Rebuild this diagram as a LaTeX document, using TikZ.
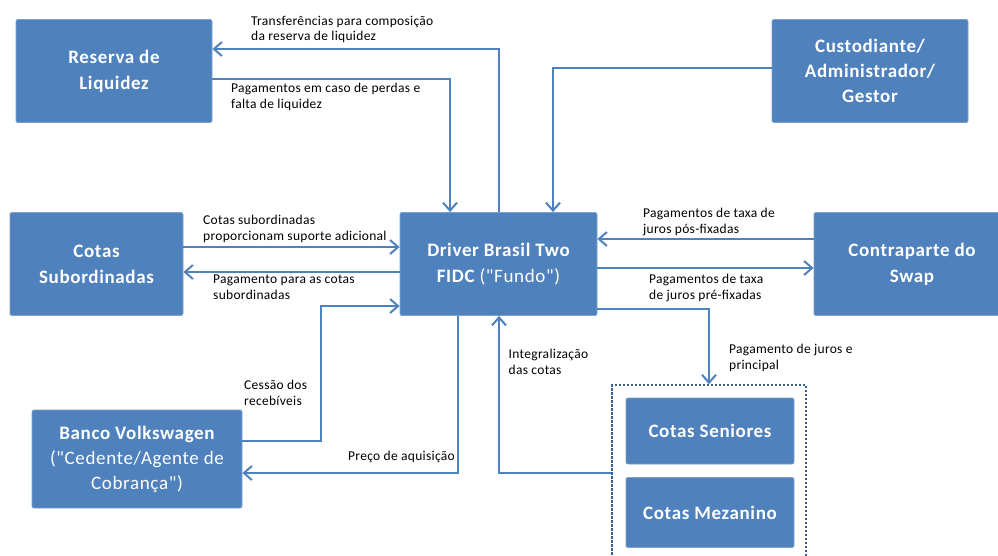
\documentclass[tikz,border=0pt]{standalone}
\usepackage{fontspec}
\setmainfont{Carlito}
\newfontfamily\lblfont[LetterSpace=2.2]{Carlito}
\newfontfamily\boxfont[LetterSpace=3.4]{Carlito}
\usetikzlibrary{arrows.meta}
\definecolor{bfill}{RGB}{79,129,189}
\definecolor{bline}{RGB}{79,129,189}
\definecolor{dashc}{RGB}{56,93,138}
\begin{document}
\begin{tikzpicture}[x=1pt,y=-1pt,
  box/.style={fill=bfill, draw=bfill!75!white, line width=0.8pt, rounded corners=2pt,
    text=white, align=center, inner sep=0pt,
    font=\boxfont\fontsize{19}{26}\selectfont\bfseries},
  flow/.style={draw=bline, line width=2pt, -{Straight Barb[length=8pt,width=14pt]}},
  lbl/.style={anchor=base west, align=left, inner sep=0pt, text=black,
    font=\lblfont\fontsize{13.5}{15.7}\selectfont}]
\useasboundingbox (0,0) rectangle (998,555);
\fill[white] (0,0) rectangle (998,555);

% boxes
\node[box, minimum width=196pt, minimum height=103pt] (res) at (114,71) {Reserva de\\Liquidez};
\node[box, minimum width=196pt, minimum height=103pt, font=\boxfont\fontsize{19}{24.8}\selectfont\bfseries] (cus) at (870,71) {Custodiante/\\Administrador/\\Gestor};
\node[box, minimum width=173pt, minimum height=103pt] (sub) at (96.5,264) {Cotas\\Subordinadas};
\node[box, minimum width=197pt, minimum height=103pt] (drv) at (498.5,264) {Driver Brasil Two\\FIDC \mdseries("Fundo")};
\node[box, minimum width=196pt, minimum height=103pt] (swp) at (912,264) {Contraparte do\\Swap};
\node[box, minimum width=210pt, minimum height=98pt, font=\boxfont\fontsize{19}{25}\selectfont\bfseries] (bvw) at (137,459) {Banco Volkswagen\\\mdseries("Cedente/Agente de\\\mdseries Cobrança")};
\node[draw=dashc, line width=1.5pt, dash pattern=on 2.5pt off 1.5pt, minimum width=194pt, minimum height=185pt, inner sep=0pt] (cont) at (709,477.5) {};
\node[box, minimum width=168pt, minimum height=66pt] (sen) at (710,431) {Cotas Seniores};
\node[box, minimum width=168pt, minimum height=70pt] (mez) at (710,512.5) {Cotas Mezanino};

% routing coordinates
\coordinate (c1) at (499,49);
\coordinate (c2) at (450,79);
\coordinate (c3) at (553,68);
\coordinate (c4) at (0,247);
\coordinate (c5) at (0,272);
\coordinate (c6a) at (321,441);
\coordinate (c6b) at (321,306);
\coordinate (c7) at (458,473);
\coordinate (c8) at (499,473);
\coordinate (c9) at (0,239);
\coordinate (c10) at (0,268);
\coordinate (c11) at (709,309);

% connectors
\draw[flow] (drv.north -| c1) |- (res.east |- c1);
\draw[flow] (res.east |- c2) -| (drv.north -| c2);
\draw[flow] (cus.west |- c3) -| (drv.north -| c3);
\draw[flow] (sub.east |- c4) -- (drv.west |- c4);
\draw[flow] (drv.west |- c5) -- (sub.east |- c5);
\draw[flow] (bvw.east |- c6a) -| (c6b) -- (drv.west |- c6b);
\draw[flow] (drv.south -| c7) |- (bvw.east |- c7);
\draw[flow] (cont.west |- c8) -| (drv.south -| c8);
\draw[flow] (swp.west |- c9) -- (drv.east |- c9);
\draw[flow] (drv.east |- c10) -- (swp.west |- c10);
\draw[flow] (drv.east |- c11) -| (cont.north -| c11);

% labels (base anchor = last line baseline)
\node[lbl] (l1) at (251,40.7) {Transferências para composição\\da reserva de liquidez};
\node[lbl] (l2) at (231,108) {Pagamentos em caso de perdas e\\falta de liquidez};
\node[lbl] (l3) at (203,240) {Cotas subordinadas\\proporcionam suporte adicional};
\node[lbl] (l4) at (213,299.6) {Pagamento para as cotas\\subordinadas};
\node[lbl] (l5) at (643,233) {Pagamentos de taxa de\\juros pós-fixadas};
\node[lbl] (l6) at (649,299) {Pagamentos de taxa\\de juros pré-fixadas};
\node[lbl] (l7) at (729,369.6) {Pagamento de juros e\\principal};
\node[lbl] (l8) at (508.5,374) {Integralização\\das cotas};
\node[lbl] (l9) at (244,405.6) {Cessão dos\\recebíveis};
\node[lbl, anchor=base east] (l10) at (455,460.7) {Preço de aquisição};
\end{tikzpicture}
\end{document}
